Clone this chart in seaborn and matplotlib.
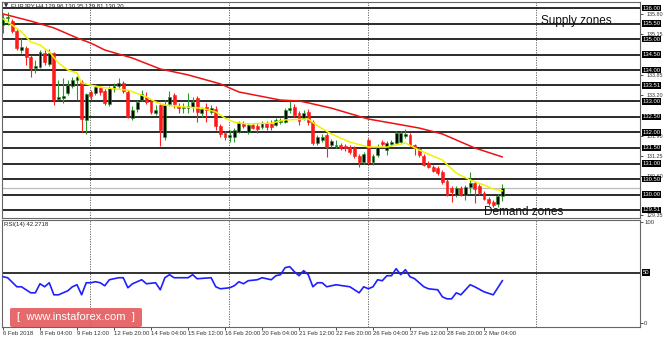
import matplotlib
matplotlib.use("Agg")
import matplotlib.pyplot as plt
from matplotlib.patches import FancyBboxPatch
from matplotlib.transforms import blended_transform_factory
import numpy as np
import pandas as pd
import seaborn as sns

# ---- EURJPY H4 candles (bar index 0 .. 108) ----
opens = [135.45, 135.68, 135.58, 135.26, 134.65, 134.71, 134.42, 134.07, 134.10, 134.55,
         134.20, 134.55, 133.07, 133.11, 133.27, 133.49, 133.69, 133.62, 132.40, 133.30,
         133.27, 133.43, 133.33, 132.91, 133.40, 133.49, 133.59, 133.30, 132.46, 132.75,
         133.04, 133.14, 133.01, 132.62, 132.88, 131.85, 132.91, 133.20, 132.85, 132.78,
         132.78, 132.82, 133.11, 132.62, 132.82, 132.66, 132.75, 132.21, 131.98, 131.85,
         131.85, 132.01, 132.27, 132.01, 132.24, 132.21, 132.17, 132.30, 132.27, 132.24,
         132.33, 132.33, 132.72, 132.82, 132.62, 132.46, 132.66, 132.33, 131.66, 131.76,
         131.92, 131.60, 131.56, 131.60, 131.56, 131.53, 131.50, 131.24, 131.05, 131.76,
         131.05, 131.27, 131.69, 131.43, 131.63, 131.66, 131.69, 131.88, 131.92, 131.60,
         131.47, 131.24, 131.02, 130.89, 130.86, 130.73, 130.44, 130.21, 129.99, 130.21,
         129.99, 130.25, 130.37, 130.28, 130.05, 129.86, 129.76, 129.70, 129.96]
highs = [135.81, 135.87, 135.65, 135.32, 135.04, 134.78, 134.49, 134.33, 134.65, 134.65,
         134.68, 134.59, 133.69, 133.75, 133.69, 133.78, 133.81, 133.69, 133.27, 133.36,
         133.56, 133.49, 133.40, 133.49, 133.59, 133.75, 133.65, 133.36, 132.85, 133.04,
         133.36, 133.30, 133.04, 132.88, 132.91, 133.04, 133.33, 133.27, 132.95, 132.95,
         133.27, 133.14, 133.17, 132.82, 132.95, 132.88, 132.85, 132.27, 132.05, 132.08,
         132.14, 132.37, 132.37, 132.30, 132.30, 132.30, 132.37, 132.37, 132.40, 132.46,
         132.46, 132.78, 133.01, 132.91, 132.69, 132.72, 132.75, 132.40, 131.92, 131.95,
         131.98, 131.79, 131.76, 131.66, 131.63, 131.60, 131.56, 131.31, 131.37, 131.82,
         131.31, 131.63, 131.76, 131.72, 131.76, 132.05, 132.05, 132.11, 131.98, 131.63,
         131.53, 131.31, 131.08, 130.95, 130.92, 130.79, 130.50, 130.28, 130.28, 130.28,
         130.31, 130.73, 130.44, 130.34, 130.12, 129.92, 129.83, 130.02, 130.35]
lows = [135.20, 135.45, 135.20, 134.65, 134.55, 134.17, 133.78, 133.91, 134.07, 134.17,
        134.14, 132.88, 133.04, 132.95, 133.20, 133.43, 133.04, 132.01, 131.95, 133.04,
        133.20, 133.20, 132.88, 132.85, 133.30, 133.43, 133.27, 132.46, 132.40, 132.66,
        133.01, 132.91, 132.59, 132.56, 131.56, 131.76, 132.85, 132.78, 132.62, 132.62,
        132.62, 132.66, 132.33, 132.50, 132.33, 132.59, 132.08, 131.85, 131.76, 131.69,
        131.69, 131.98, 132.14, 131.95, 132.11, 131.98, 132.11, 132.08, 132.08, 132.21,
        132.27, 132.30, 132.62, 132.50, 132.24, 132.40, 132.24, 131.60, 131.60, 131.69,
        131.21, 131.53, 131.50, 131.43, 131.40, 131.31, 131.18, 130.89, 130.98, 130.98,
        130.95, 131.21, 131.56, 131.27, 131.56, 131.63, 131.63, 131.82, 131.53, 131.27,
        131.21, 130.92, 130.86, 130.73, 130.63, 130.34, 129.96, 129.76, 129.92, 129.96,
        129.83, 130.05, 129.73, 129.99, 129.83, 129.67, 129.60, 129.60, 129.81]
closes = [135.68, 135.71, 135.26, 134.71, 134.75, 134.42, 134.07, 134.14, 134.59, 134.26,
          134.55, 133.04, 133.14, 133.17, 133.52, 133.69, 133.78, 132.43, 133.24, 133.17,
          133.46, 133.30, 132.95, 133.43, 133.49, 133.59, 133.33, 132.50, 132.72, 132.98,
          133.24, 132.98, 132.66, 132.72, 132.08, 132.88, 133.14, 132.91, 132.78, 132.82,
          132.85, 132.98, 132.66, 132.75, 132.72, 132.78, 132.21, 131.95, 131.85, 131.92,
          132.08, 132.30, 132.21, 132.24, 132.14, 132.11, 132.30, 132.17, 132.17, 132.40,
          132.40, 132.72, 132.78, 132.56, 132.37, 132.62, 132.33, 131.66, 131.85, 131.85,
          131.53, 131.72, 131.60, 131.50, 131.50, 131.37, 131.24, 131.05, 131.31, 131.05,
          131.24, 131.53, 131.63, 131.66, 131.69, 131.98, 131.98, 131.95, 131.60, 131.50,
          131.27, 130.95, 130.89, 130.76, 130.70, 130.41, 129.99, 130.08, 130.21, 129.99,
          130.25, 130.37, 130.18, 130.05, 129.86, 129.73, 129.67, 129.96, 130.20]

# ---- moving averages (fast = yellow, slow = red) ----
fast_ma_bar = [0, 2, 4, 6, 8, 10, 12, 14, 16, 17, 19, 21, 24, 27, 31, 33, 35, 39, 43, 46,
               48, 50, 53, 58, 61, 66, 68, 71, 75, 79, 83, 87, 90, 95, 98, 101, 104, 106, 108]
fast_ma = [135.65, 135.45, 135.23, 134.91, 134.81, 134.59, 134.23, 134.01, 133.91, 133.59,
           133.52, 133.46, 133.40, 133.36, 133.14, 132.98, 132.88, 132.82, 132.78, 132.66,
           132.46, 132.33, 132.27, 132.30, 132.40, 132.43, 132.21, 131.95, 131.69, 131.53,
           131.53, 131.66, 131.43, 131.11, 130.69, 130.47, 130.31, 130.18, 130.12]
slow_ma_bar = [0, 6, 11, 16, 19, 22, 28, 34, 40, 47, 51, 60, 64, 66, 71, 79, 84, 90, 95, 102, 108]
slow_ma = [135.81, 135.58, 135.36, 135.04, 134.87, 134.65, 134.39, 134.04, 133.85, 133.56,
           133.30, 133.04, 133.01, 132.95, 132.78, 132.43, 132.30, 132.14, 131.95, 131.50, 131.21]

# ---- RSI(14) ----
rsi_bar = [0, 1, 3, 4, 6, 7, 8, 9, 10, 11, 12, 14, 15, 16, 17, 18, 19, 20, 21, 22,
           23, 25, 26, 27, 28, 30, 31, 33, 34, 35, 36, 37, 40, 41, 42, 45, 46, 47, 49, 50,
           51, 52, 53, 55, 56, 58, 59, 60, 61, 62, 63, 64, 65, 66, 67, 68, 69, 70, 72, 75,
           77, 78, 79, 80, 81, 82, 83, 84, 85, 86, 87, 88, 89, 91, 92, 94, 95, 96, 97, 98,
           99, 101, 102, 104, 106, 108]
rsi = [46, 45, 36, 36, 30, 30, 39, 36, 40, 28, 28, 32, 36, 38, 28, 40, 40, 41, 40, 37,
       43, 45, 45, 35, 39, 43, 39, 40, 33, 45, 48, 45, 45, 48, 44, 45, 36, 34, 35, 37,
       41, 39, 42, 43, 45, 43, 47, 48, 55, 56, 51, 47, 52, 48, 36, 40, 40, 36, 38, 36,
       30, 36, 34, 36, 43, 42, 47, 47, 54, 48, 53, 46, 44, 36, 34, 33, 26, 24, 24, 30,
       28, 38, 36, 31, 28, 42.27]

# ---- price levels and scale ----
level_prices = [136.00, 135.50, 135.00, 134.50, 134.00, 133.51, 133.00, 132.50,
                132.00, 131.50, 131.00, 130.50, 130.00, 129.51]
level_labels = ["136.00", "135.50", "135.00", "134.50", "134.00", "133.51", "133.00",
                "132.50", "132.00", "131.50", "131.00", "130.50", "130.00", "129.51"]
scale_prices = [135.80, 135.15, 133.85, 133.20, 131.90, 131.25, 130.60, 129.35]
scale_labels = ["135.80", "135.15", "133.85", "133.20", "131.90", "131.25", "130.60", "129.35"]
last_price = 130.20

date_ticks = [0, 8, 16, 24, 32, 40, 48, 56, 64, 72, 80, 88, 96, 104]
date_labels = ["6 Feb 2018", "8 Feb 04:00", "9 Feb 12:00", "12 Feb 20:00", "14 Feb 04:00",
               "15 Feb 12:00", "16 Feb 20:00", "20 Feb 04:00", "21 Feb 12:00", "22 Feb 20:00",
               "26 Feb 04:00", "27 Feb 12:00", "28 Feb 20:00", "2 Mar 04:00"]

sns.set_style("white")
plt.rcParams["font.family"] = ["Liberation Sans", "DejaVu Sans"]

W, H = 665, 339
fig = plt.figure(figsize=(W / 100, H / 100), dpi=100)


def px_axes(left, top, right, bottom):
    return fig.add_axes([left / W, 1 - bottom / H, (right - left) / W, (bottom - top) / H])


ax = px_axes(2, 2, 640, 218)
ax_rsi = px_axes(2, 220, 640, 327)

SMALL = 4.3
bar_px = 4.625
x_lo, x_hi = (2 - 3) / bar_px, (640 - 3) / bar_px
for a in (ax, ax_rsi):
    a.set_xlim(x_lo, x_hi)
    for s in a.spines.values():
        s.set_color("#666666")
        s.set_linewidth(0.8)
ax.set_ylim(129.248, 136.193)
ax_rsi.set_ylim(-4.0, 102.4)

# vertical grid separators
for gx in [18.8, 48.9, 78.9, 115.2]:
    for a in (ax, ax_rsi):
        a.axvline(gx, color="#555555", lw=0.6, ls=(0, (1.5, 1.5)), zorder=1)

# horizontal support / resistance levels
for p in level_prices:
    ax.axhline(p, color="#1a1a1a", lw=1.3, zorder=2)
ax.axhline(last_price, color="#bdbdbd", lw=0.9, zorder=2)

# candles
df = pd.DataFrame({"bar": np.arange(len(opens)), "open": opens, "high": highs,
                   "low": lows, "close": closes})
up = df["close"] >= df["open"]
bull_wick, bear_wick = "#2a9a2a", "#ff2020"
ax.vlines(df.loc[up, "bar"], df.loc[up, "low"], df.loc[up, "high"], color=bull_wick, lw=0.8, zorder=3)
ax.vlines(df.loc[~up, "bar"], df.loc[~up, "low"], df.loc[~up, "high"], color=bear_wick, lw=0.8, zorder=3)
body_lo = np.minimum(df["open"], df["close"])
body_h = np.maximum(np.abs(df["close"] - df["open"]), 0.025)
ax.bar(df.loc[up, "bar"], body_h[up], bottom=body_lo[up], width=0.62,
       color="#050505", edgecolor=bull_wick, lw=0.4, zorder=3.5)
ax.bar(df.loc[~up, "bar"], body_h[~up], bottom=body_lo[~up], width=0.62,
       color="#ff1a1a", edgecolor="#ff1a1a", lw=0.4, zorder=3.5)

# moving averages
sns.lineplot(x=slow_ma_bar, y=slow_ma, ax=ax, color="#ee1111", lw=1.1, zorder=4)
sns.lineplot(x=fast_ma_bar, y=fast_ma, ax=ax, color="#f2f200", lw=1.1, zorder=4)

# price scale
ax.set_xticks([])
ax.yaxis.tick_right()
ax.set_yticks(scale_prices)
ax.set_yticklabels(scale_labels)
ax.tick_params(axis="y", right=True, left=False, labelsize=SMALL - 0.4, length=2, pad=2.5,
               colors="#333333", width=0.6)
ax.set_ylabel("")
ax.set_xlabel("")
tr = blended_transform_factory(ax.transAxes, ax.transData)
for p, lab in zip(level_prices, level_labels):
    ax.text(1.004, p, lab, transform=tr, ha="left", va="center", fontsize=SMALL - 0.1,
            color="white", clip_on=False, zorder=6,
            bbox=dict(boxstyle="square,pad=0.12", fc="black", ec="none"))

# RSI panel
ax_rsi.axhline(50, color="#222222", lw=1.3, zorder=2)
sns.lineplot(x=rsi_bar, y=rsi, ax=ax_rsi, color="#1f1fff", lw=1.2, zorder=4)
ax_rsi.yaxis.tick_right()
ax_rsi.set_yticks([0, 100])
ax_rsi.set_yticklabels(["0", "100"])
ax_rsi.tick_params(axis="y", right=True, left=False, labelsize=SMALL, length=2, pad=1,
                   colors="#333333", width=0.6)
tr_r = blended_transform_factory(ax_rsi.transAxes, ax_rsi.transData)
ax_rsi.text(1.004, 50, "50", transform=tr_r, ha="left", va="center", fontsize=SMALL,
            color="white", clip_on=False, zorder=6,
            bbox=dict(boxstyle="square,pad=0.15", fc="black", ec="none"))
ax_rsi.set_xticks(date_ticks)
ax_rsi.set_xticklabels(date_labels)
for lbl in ax_rsi.get_xticklabels():
    lbl.set_horizontalalignment("left")
ax_rsi.tick_params(axis="x", bottom=True, labelsize=SMALL, length=2, pad=1,
                   colors="#333333", width=0.6)
ax_rsi.set_ylabel("")
ax_rsi.set_xlabel("")
ax_rsi.text(2 / 638, 0.955, "RSI(14) 42.2718", transform=ax_rsi.transAxes,
            fontsize=SMALL, color="#222222", ha="left", va="center")

# header
fig.text(4 / W, 1 - 5.5 / H, "\u25BC", fontsize=4, family="DejaVu Sans",
         color="#333333", ha="left", va="center")
fig.text(11 / W, 1 - 5.5 / H, "EURJPY,H4 129.96 130.35 129.81 130.20", fontsize=SMALL,
         color="#222222", ha="left", va="center")

# zone annotations
fig.text(541 / W, 1 - 21 / H, "Supply zones", fontsize=8.5,
         color="#111111", ha="left", va="center", zorder=7)
fig.text(484 / W, 1 - 212 / H, "Demand zones", fontsize=8.5,
         color="#111111", ha="left", va="center", zorder=7)

# site badge
badge = FancyBboxPatch((10 / W, 1 - 327 / H), 132 / W, 19 / H,
                       boxstyle="round,pad=0,rounding_size=0.004",
                       transform=fig.transFigure, fc="#e45a5c", ec="none", alpha=0.9,
                       zorder=8)
fig.patches.append(badge)
fig.text(76 / W, 1 - 317.5 / H, "[  www.instaforex.com  ]", fontsize=8,
         color="white", ha="center", va="center", zorder=9)

fig.savefig("out.png", dpi=100, facecolor="white")
